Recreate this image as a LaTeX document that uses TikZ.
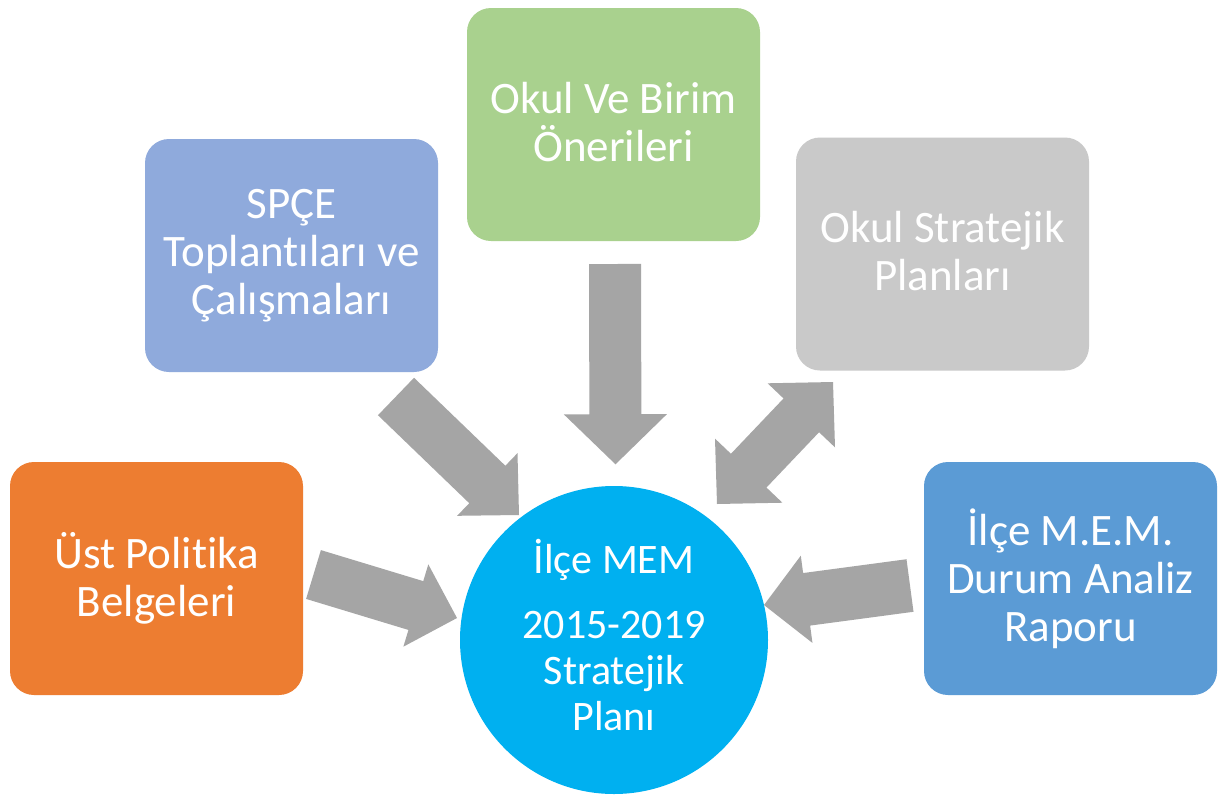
\documentclass[tikz,border=0pt]{standalone}
\usepackage{fontspec}
\setmainfont[Ligatures=NoCommon]{Carlito}
\usetikzlibrary{calc}
\definecolor{cOrange}{HTML}{ED7D31}
\definecolor{cLav}{HTML}{8FAADC}
\definecolor{cGreen}{HTML}{A9D18E}
\definecolor{cGrayBox}{HTML}{C9C9C9}
\definecolor{cBlue}{HTML}{5B9BD5}
\definecolor{cCyan}{HTML}{00B0F0}
\definecolor{cArrow}{HTML}{A5A5A5}
\newcommand{\myblockarrow}[5]{% tail, tip, shaft half width, head half width, head length
  \coordinate (hb) at ($(#2)!#5!(#1)$);
  \fill[arrowfill] ($(#1)!#3!90:(#2)$) -- ($(hb)!#3!90:(#2)$) -- ($(hb)!#4!90:(#2)$) -- (#2)
    -- ($(hb)!#4!-90:(#2)$) -- ($(hb)!#3!-90:(#2)$) -- ($(#1)!#3!-90:(#2)$) -- cycle;
}
\newcommand{\mydoublearrow}[5]{% end1, end2, shaft half width, head half width, head length
  \coordinate (hba) at ($(#1)!#5!(#2)$);
  \coordinate (hbb) at ($(#2)!#5!(#1)$);
  \fill[arrowfill] (#1) -- ($(hba)!#4!90:(#2)$) -- ($(hba)!#3!90:(#2)$) -- ($(hbb)!#3!-90:(#1)$)
    -- ($(hbb)!#4!-90:(#1)$) -- (#2) -- ($(hbb)!#4!90:(#1)$) -- ($(hbb)!#3!90:(#1)$)
    -- ($(hba)!#3!-90:(#2)$) -- ($(hba)!#4!-90:(#2)$) -- cycle;
}
\begin{document}
\begin{tikzpicture}[x=1pt,y=-1pt,
  box/.style={rectangle, rounded corners=24pt, minimum width=293pt, minimum height=233pt,
    inner sep=0pt, align=center, text=white, font=\fontsize{45}{48}\selectfont},
  arrowfill/.style={fill=cArrow}]
\useasboundingbox[fill=white] (0,0) rectangle (1219,796);

% boxes
\node[box, fill=cOrange] (ust) at (156.5,578.5) {Üst Politika\\Belgeleri};
\node[box, fill=cLav] (spce) at (291.5,255.5) {SPÇE\\Toplantıları ve\\Çalışmaları};
\node[box, fill=cGreen, text depth=6pt] (okul) at (613.5,124.5) {Okul Ve Birim\\Önerileri};
\node[box, fill=cGrayBox, text depth=6pt] (osp) at (942.5,254) {Okul Stratejik\\Planları};
\node[box, fill=cBlue] (ilce) at (1070.5,578.5) {İlçe M.E.M.\\Durum Analiz\\Raporu};

% central circle
\node[circle, fill=cCyan, minimum size=308pt, inner sep=0pt] (plan) at (614,640) {};
\node[align=center, text=white, font=\fontsize{42}{46}\selectfont] (plantext) at ($(plan.center)+(0,-5)$)
  {İlçe MEM\\[19pt]2015-2019\\Stratejik\\Planı};

% arrow ends
\coordinate (a1s) at (313.5,574.5);  \coordinate (a1t) at (457,618);
\coordinate (a2s) at (396,396.5);    \coordinate (a2t) at (519,515);
\coordinate (a3s) at (615,264);      \coordinate (a3t) at (615.5,464.3);
\coordinate (a4a) at (717,504);      \coordinate (a4b) at (833,382);
\coordinate (a5s) at (910,585.5);    \coordinate (a5t) at (764,605);

\myblockarrow{a1s}{a1t}{25.5pt}{43pt}{43pt}
\myblockarrow{a2s}{a2t}{26pt}{43.5pt}{44pt}
\myblockarrow{a3s}{a3t}{26pt}{51.5pt}{50pt}
\mydoublearrow{a4a}{a4b}{24.5pt}{46.5pt}{46pt}
\myblockarrow{a5s}{a5t}{26.5pt}{44pt}{43pt}
\end{tikzpicture}
\end{document}
